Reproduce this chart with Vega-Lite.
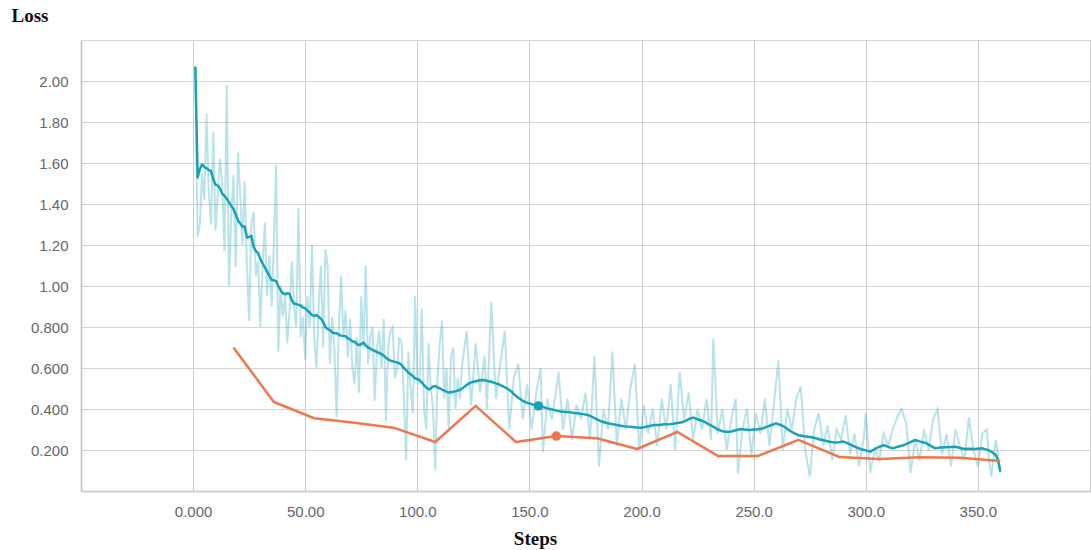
{
  "$schema": "https://vega.github.io/schema/vega-lite/v6.json",
  "width": 1009,
  "height": 451,
  "autosize": {"type": "none"},
  "padding": {"left": 81, "top": 40, "right": 1, "bottom": 59},
  "background": "white",
  "config": {"view": {"stroke": null}},
  "datasets": {
    "raw": [
      {"step":1,"value":2.07},{"step":2,"value":1.24},{"step":3,"value":1.3},{"step":4,"value":1.55},{"step":5,"value":1.42},{"step":6,"value":1.84},{"step":7,"value":1.45},{"step":8,"value":1.3},{"step":9,"value":1.75},{"step":10,"value":1.27},
      {"step":11,"value":1.45},{"step":12,"value":1.62},{"step":13,"value":1.5},{"step":14,"value":1.17},{"step":15,"value":1.98},{"step":16,"value":1.0},{"step":17,"value":1.35},{"step":18,"value":1.54},{"step":19,"value":1.09},{"step":20,"value":1.65},
      {"step":21,"value":1.44},{"step":22,"value":1.2},{"step":23,"value":1.51},{"step":24,"value":1.1},{"step":25,"value":0.83},{"step":26,"value":1.31},{"step":27,"value":1.36},{"step":28,"value":1.05},{"step":29,"value":1.12},{"step":30,"value":0.8},
      {"step":31,"value":1.1},{"step":32,"value":1.31},{"step":33,"value":0.95},{"step":34,"value":1.15},{"step":35,"value":0.9},{"step":36,"value":1.2},{"step":37,"value":1.59},{"step":38,"value":0.68},{"step":39,"value":1.0},{"step":40,"value":0.85},
      {"step":41,"value":0.95},{"step":42,"value":0.72},{"step":43,"value":0.88},{"step":44,"value":1.12},{"step":45,"value":0.9},{"step":46,"value":0.8},{"step":47,"value":1.38},{"step":48,"value":0.75},{"step":49,"value":0.85},{"step":50,"value":0.64},
      {"step":51,"value":0.95},{"step":52,"value":0.8},{"step":53,"value":1.2},{"step":54,"value":0.75},{"step":55,"value":0.6},{"step":56,"value":0.9},{"step":57,"value":1.1},{"step":58,"value":0.7},{"step":59,"value":1.18},{"step":60,"value":1.1},
      {"step":61,"value":0.62},{"step":62,"value":0.85},{"step":63,"value":0.7},{"step":64,"value":0.36},{"step":65,"value":0.8},{"step":66,"value":1.05},{"step":67,"value":0.75},{"step":68,"value":0.88},{"step":69,"value":0.65},{"step":70,"value":0.84},
      {"step":71,"value":0.6},{"step":72,"value":0.52},{"step":73,"value":0.75},{"step":74,"value":0.48},{"step":75,"value":0.95},{"step":76,"value":0.7},{"step":77,"value":1.1},{"step":78,"value":0.62},{"step":79,"value":0.75},{"step":80,"value":0.8},
      {"step":81,"value":0.44},{"step":82,"value":0.7},{"step":83,"value":0.78},{"step":84,"value":0.6},{"step":85,"value":0.84},{"step":86,"value":0.34},{"step":87,"value":0.7},{"step":88,"value":0.78},{"step":89,"value":0.8},{"step":90,"value":0.55},
      {"step":91,"value":0.6},{"step":92,"value":0.75},{"step":93,"value":0.72},{"step":94,"value":0.45},{"step":95,"value":0.15},{"step":96,"value":0.68},{"step":97,"value":0.5},{"step":98,"value":0.38},{"step":99,"value":0.95},{"step":100,"value":0.55},
      {"step":101,"value":0.52},{"step":102,"value":0.89},{"step":103,"value":0.4},{"step":104,"value":0.3},{"step":105,"value":0.72},{"step":106,"value":0.5},{"step":107,"value":0.4},{"step":108,"value":0.1},{"step":109,"value":0.55},{"step":110,"value":0.72},
      {"step":111,"value":0.83},{"step":112,"value":0.45},{"step":113,"value":0.6},{"step":114,"value":0.3},{"step":115,"value":0.65},{"step":116,"value":0.7},{"step":117,"value":0.4},{"step":118,"value":0.55},{"step":119,"value":0.45},{"step":120,"value":0.62},
      {"step":122,"value":0.78},{"step":124,"value":0.42},{"step":126,"value":0.72},{"step":128,"value":0.48},{"step":130,"value":0.66},{"step":131,"value":0.4},{"step":133,"value":0.92},{"step":135,"value":0.45},{"step":137,"value":0.62},{"step":139,"value":0.78},
      {"step":141,"value":0.3},{"step":143,"value":0.55},{"step":145,"value":0.62},{"step":147,"value":0.35},{"step":149,"value":0.52},{"step":151,"value":0.3},{"step":153,"value":0.48},{"step":155,"value":0.6},{"step":156,"value":0.19},{"step":158,"value":0.45},
      {"step":160,"value":0.35},{"step":162,"value":0.5},{"step":163,"value":0.58},{"step":165,"value":0.3},{"step":167,"value":0.45},{"step":169,"value":0.25},{"step":171,"value":0.42},{"step":173,"value":0.35},{"step":175,"value":0.48},{"step":177,"value":0.25},
      {"step":179,"value":0.66},{"step":181,"value":0.12},{"step":183,"value":0.4},{"step":185,"value":0.3},{"step":187,"value":0.68},{"step":189,"value":0.22},{"step":191,"value":0.45},{"step":193,"value":0.3},{"step":195,"value":0.5},{"step":197,"value":0.62},
      {"step":199,"value":0.2},{"step":201,"value":0.42},{"step":203,"value":0.28},{"step":205,"value":0.4},{"step":207,"value":0.22},{"step":209,"value":0.45},{"step":211,"value":0.3},{"step":213,"value":0.52},{"step":215,"value":0.2},{"step":217,"value":0.58},
      {"step":219,"value":0.35},{"step":221,"value":0.48},{"step":223,"value":0.25},{"step":225,"value":0.4},{"step":227,"value":0.3},{"step":229,"value":0.45},{"step":231,"value":0.25},{"step":232,"value":0.745},{"step":234,"value":0.28},{"step":236,"value":0.4},
      {"step":238,"value":0.2},{"step":240,"value":0.35},{"step":242,"value":0.45},{"step":243,"value":0.086},{"step":245,"value":0.3},{"step":247,"value":0.4},{"step":249,"value":0.18},{"step":251,"value":0.38},{"step":253,"value":0.28},{"step":255,"value":0.45},
      {"step":257,"value":0.22},{"step":259,"value":0.42},{"step":261,"value":0.64},{"step":263,"value":0.2},{"step":265,"value":0.4},{"step":267,"value":0.3},{"step":269,"value":0.45},{"step":271,"value":0.51},{"step":273,"value":0.2},{"step":275,"value":0.07},
      {"step":277,"value":0.3},{"step":279,"value":0.38},{"step":281,"value":0.22},{"step":283,"value":0.32},{"step":285,"value":0.15},{"step":287,"value":0.3},{"step":289,"value":0.25},{"step":291,"value":0.37},{"step":293,"value":0.18},{"step":295,"value":0.28},
      {"step":297,"value":0.12},{"step":299,"value":0.25},{"step":300,"value":0.38},{"step":302,"value":0.09},{"step":304,"value":0.2},{"step":306,"value":0.15},{"step":308,"value":0.28},{"step":310,"value":0.22},{"step":312,"value":0.3},{"step":314,"value":0.36},
      {"step":316,"value":0.4},{"step":318,"value":0.33},{"step":320,"value":0.088},{"step":322,"value":0.25},{"step":324,"value":0.15},{"step":326,"value":0.3},{"step":328,"value":0.2},{"step":330,"value":0.35},{"step":332,"value":0.4},{"step":334,"value":0.18},
      {"step":336,"value":0.28},{"step":338,"value":0.12},{"step":340,"value":0.3},{"step":342,"value":0.22},{"step":344,"value":0.15},{"step":346,"value":0.36},{"step":348,"value":0.2},{"step":350,"value":0.12},{"step":352,"value":0.28},{"step":354,"value":0.3},
      {"step":355,"value":0.15},{"step":356,"value":0.07},{"step":358,"value":0.25},{"step":360,"value":0.088}
    ],
    "smooth": [
      {"step":1,"value":2.07},{"step":2,"value":1.53},{"step":3,"value":1.57},{"step":4,"value":1.594},{"step":5,"value":1.58},{"step":6,"value":1.575},{"step":7,"value":1.565},{"step":8,"value":1.561},{"step":9,"value":1.52},{"step":10,"value":1.495},
      {"step":11,"value":1.49},{"step":12,"value":1.476},{"step":13,"value":1.45},{"step":14,"value":1.44},{"step":15,"value":1.425},{"step":16,"value":1.41},{"step":17,"value":1.39},{"step":18,"value":1.375},{"step":19,"value":1.35},{"step":20,"value":1.32},
      {"step":21,"value":1.305},{"step":22,"value":1.29},{"step":23,"value":1.29},{"step":24,"value":1.236},{"step":25,"value":1.24},{"step":26,"value":1.245},{"step":27,"value":1.19},{"step":28,"value":1.17},{"step":29,"value":1.16},{"step":30,"value":1.13},
      {"step":31,"value":1.11},{"step":32,"value":1.09},{"step":33,"value":1.07},{"step":34,"value":1.05},{"step":35,"value":1.03},{"step":36,"value":1.028},{"step":37,"value":1.024},{"step":38,"value":1.0},{"step":39,"value":0.98},{"step":40,"value":0.965},
      {"step":41,"value":0.959},{"step":42,"value":0.965},{"step":43,"value":0.962},{"step":44,"value":0.93},{"step":45,"value":0.915},{"step":46,"value":0.912},{"step":47,"value":0.908},{"step":48,"value":0.905},{"step":49,"value":0.895},{"step":50,"value":0.891},
      {"step":51,"value":0.88},{"step":52,"value":0.87},{"step":53,"value":0.858},{"step":54,"value":0.855},{"step":55,"value":0.858},{"step":56,"value":0.85},{"step":57,"value":0.84},{"step":58,"value":0.825},{"step":59,"value":0.8},{"step":60,"value":0.79},
      {"step":61,"value":0.785},{"step":62,"value":0.775},{"step":63,"value":0.769},{"step":64,"value":0.77},{"step":65,"value":0.762},{"step":66,"value":0.758},{"step":67,"value":0.756},{"step":68,"value":0.755},{"step":69,"value":0.745},{"step":70,"value":0.74},
      {"step":71,"value":0.73},{"step":72,"value":0.728},{"step":73,"value":0.718},{"step":74,"value":0.712},{"step":75,"value":0.716},{"step":76,"value":0.724},{"step":77,"value":0.71},{"step":78,"value":0.7},{"step":79,"value":0.695},{"step":80,"value":0.688},
      {"step":82,"value":0.678},{"step":84,"value":0.668},{"step":85,"value":0.66},{"step":86,"value":0.65},{"step":87,"value":0.642},{"step":88,"value":0.636},{"step":89,"value":0.633},{"step":90,"value":0.63},{"step":92,"value":0.623},{"step":93,"value":0.615},
      {"step":94,"value":0.6},{"step":95,"value":0.59},{"step":96,"value":0.577},{"step":97,"value":0.57},{"step":98,"value":0.56},{"step":99,"value":0.55},{"step":100,"value":0.545},{"step":101,"value":0.541},{"step":102,"value":0.53},{"step":103,"value":0.515},
      {"step":104,"value":0.505},{"step":105,"value":0.496},{"step":106,"value":0.5},{"step":107,"value":0.51},{"step":108,"value":0.512},{"step":109,"value":0.505},{"step":110,"value":0.501},{"step":111,"value":0.495},{"step":112,"value":0.49},{"step":113,"value":0.485},
      {"step":114,"value":0.48},{"step":115,"value":0.482},{"step":116,"value":0.484},{"step":117,"value":0.486},{"step":118,"value":0.49},{"step":119,"value":0.493},{"step":120,"value":0.5},{"step":121,"value":0.508},{"step":122,"value":0.517},{"step":123,"value":0.525},
      {"step":124,"value":0.53},{"step":126,"value":0.535},{"step":128,"value":0.54},{"step":130,"value":0.541},{"step":131,"value":0.538},{"step":133,"value":0.533},{"step":135,"value":0.525},{"step":136,"value":0.522},{"step":138,"value":0.512},{"step":140,"value":0.5},
      {"step":142,"value":0.485},{"step":143,"value":0.473},{"step":145,"value":0.455},{"step":147,"value":0.44},{"step":149,"value":0.43},{"step":151,"value":0.424},{"step":152,"value":0.42},{"step":154,"value":0.415},{"step":156,"value":0.41},{"step":158,"value":0.403},
      {"step":160,"value":0.398},{"step":162,"value":0.392},{"step":164,"value":0.388},{"step":166,"value":0.386},{"step":168,"value":0.384},{"step":170,"value":0.38},{"step":172,"value":0.378},{"step":174,"value":0.375},{"step":176,"value":0.371},{"step":178,"value":0.362},
      {"step":180,"value":0.35},{"step":182,"value":0.34},{"step":184,"value":0.333},{"step":186,"value":0.328},{"step":188,"value":0.324},{"step":190,"value":0.32},{"step":192,"value":0.316},{"step":194,"value":0.314},{"step":196,"value":0.312},{"step":198,"value":0.31},
      {"step":200,"value":0.309},{"step":202,"value":0.313},{"step":204,"value":0.318},{"step":206,"value":0.322},{"step":208,"value":0.322},{"step":210,"value":0.326},{"step":212,"value":0.325},{"step":214,"value":0.328},{"step":216,"value":0.332},{"step":218,"value":0.335},
      {"step":220,"value":0.345},{"step":222,"value":0.355},{"step":223,"value":0.358},{"step":225,"value":0.35},{"step":228,"value":0.338},{"step":230,"value":0.325},{"step":232,"value":0.314},{"step":234,"value":0.3},{"step":236,"value":0.292},{"step":238,"value":0.289},
      {"step":240,"value":0.29},{"step":242,"value":0.296},{"step":244,"value":0.302},{"step":246,"value":0.3},{"step":248,"value":0.298},{"step":250,"value":0.3},{"step":252,"value":0.301},{"step":254,"value":0.305},{"step":256,"value":0.314},{"step":258,"value":0.322},
      {"step":260,"value":0.33},{"step":262,"value":0.322},{"step":264,"value":0.311},{"step":266,"value":0.295},{"step":268,"value":0.282},{"step":270,"value":0.272},{"step":272,"value":0.268},{"step":274,"value":0.265},{"step":276,"value":0.262},{"step":278,"value":0.256},
      {"step":280,"value":0.25},{"step":282,"value":0.245},{"step":284,"value":0.24},{"step":286,"value":0.236},{"step":288,"value":0.238},{"step":290,"value":0.241},{"step":292,"value":0.232},{"step":294,"value":0.222},{"step":296,"value":0.212},{"step":298,"value":0.204},
      {"step":300,"value":0.198},{"step":302,"value":0.192},{"step":304,"value":0.205},{"step":306,"value":0.215},{"step":308,"value":0.224},{"step":310,"value":0.215},{"step":312,"value":0.208},{"step":314,"value":0.215},{"step":317,"value":0.224},{"step":320,"value":0.238},
      {"step":322,"value":0.249},{"step":324,"value":0.242},{"step":327,"value":0.233},{"step":329,"value":0.22},{"step":331,"value":0.208},{"step":333,"value":0.212},{"step":336,"value":0.214},{"step":340,"value":0.216},{"step":342,"value":0.21},{"step":344,"value":0.205},
      {"step":346,"value":0.206},{"step":349,"value":0.205},{"step":352,"value":0.208},{"step":354,"value":0.202},{"step":356,"value":0.192},{"step":358,"value":0.176},{"step":359,"value":0.151},{"step":360,"value":0.094}
    ],
    "val": [
      {"step":18,"value":0.7},{"step":36,"value":0.434},{"step":54,"value":0.355},{"step":72,"value":0.333},{"step":90,"value":0.307},{"step":108,"value":0.239},{"step":126,"value":0.415},{"step":144,"value":0.239},{"step":162,"value":0.268},{"step":180,"value":0.257},
      {"step":198,"value":0.205},{"step":216,"value":0.288},{"step":234,"value":0.171},{"step":252,"value":0.171},{"step":270,"value":0.249},{"step":288,"value":0.166},{"step":306,"value":0.156},{"step":324,"value":0.165},{"step":342,"value":0.162},{"step":360,"value":0.146}
    ],
    "markers": [
      {"step":154,"value":0.415,"series":"train"},
      {"step":162,"value":0.268,"series":"validation"}
    ]
  },
  "encoding": {
    "x": {
      "field": "step", "type": "quantitative",
      "scale": {"domain": [-50, 400], "nice": false, "zero": false},
      "axis": {
        "values": [-50, 0, 50, 100, 150, 200, 250, 300, 350, 400],
        "labelExpr": "datum.value < 0 || datum.value > 380 ? '' : (datum.value == 0 ? '0.000' : format(datum.value, '.4r'))",
        "title": "Steps",
        "titleFont": "Liberation Serif", "titleFontSize": 19, "titleFontWeight": "bold", "titleColor": "#111",
        "titleAngle": 0, "titleAlign": "center", "titleBaseline": "alphabetic", "titleX": 454, "titleY": 53,
        "labelFont": "Liberation Sans", "labelFontSize": 15, "labelColor": "#666", "labelPadding": 13,
        "ticks": false, "grid": true, "gridColor": "#cdcdcd", "gridWidth": 1,
        "domainColor": "#cfcfcf", "domainWidth": 2
      }
    },
    "y": {
      "field": "value", "type": "quantitative",
      "scale": {"domain": [0, 2.2], "nice": false, "zero": true},
      "axis": {
        "values": [0, 0.2, 0.4, 0.6, 0.8, 1.0, 1.2, 1.4, 1.6, 1.8, 2.0, 2.2],
        "labelExpr": "datum.value < 0.1 || datum.value > 2.1 ? '' : format(datum.value, '.3r')",
        "title": "Loss",
        "titleFont": "Liberation Serif", "titleFontSize": 19, "titleFontWeight": "bold", "titleColor": "#111",
        "titleAngle": 0, "titleAlign": "left", "titleBaseline": "alphabetic", "titleX": -70, "titleY": -19,
        "labelFont": "Liberation Sans", "labelFontSize": 15, "labelColor": "#666", "labelPadding": 13,
        "ticks": false, "grid": true, "gridColor": "#d6d6d6", "gridWidth": 1,
        "domainColor": "#c0c0c0", "domainWidth": 1.5
      }
    }
  },
  "layer": [
    {"data": {"name": "raw"}, "mark": {"type": "line", "color": "#17a2b8", "opacity": 0.3, "strokeWidth": 2}},
    {"data": {"name": "smooth"}, "mark": {"type": "line", "color": "#17a2b8", "strokeWidth": 2.5, "strokeJoin": "round"}},
    {"data": {"name": "val"}, "mark": {"type": "line", "color": "#f0764c", "strokeWidth": 2.5, "strokeJoin": "round"}},
    {"data": {"name": "markers"}, "mark": {"type": "circle", "size": 90, "opacity": 1},
     "encoding": {"color": {"field": "series", "type": "nominal", "scale": {"domain": ["train", "validation"], "range": ["#17a2b8", "#f0764c"]}, "legend": null}}}
  ]
}
